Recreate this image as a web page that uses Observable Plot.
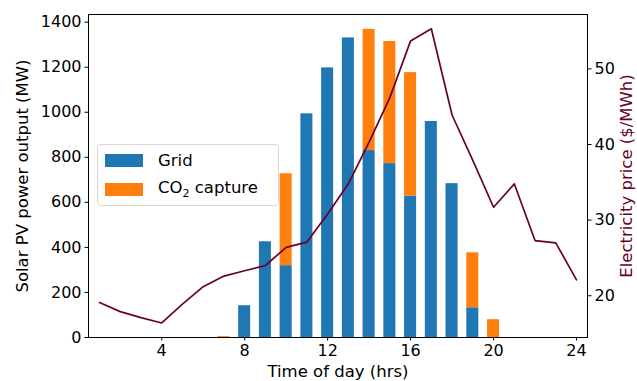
<!DOCTYPE html>
<html>
<head>
<meta charset="utf-8">
<script src="https://cdn.jsdelivr.net/npm/d3@7"></script>
<script src="https://cdn.jsdelivr.net/npm/@observablehq/plot@0.6"></script>
<style>
  html, body { margin: 0; padding: 0; background: #fff; }
  #chart { position: relative; width: 637px; height: 381px; font-family: "DejaVu Sans", sans-serif; }
  #chart > svg { position: absolute; left: 0; top: 0; }
  #legend {
    position: absolute; left: 97px; top: 144px; width: 180px; height: 60px;
    border: 1px solid #d6d6d6; border-radius: 4px; background: rgba(255,255,255,0.8);
    font-size: 16.5px; color: #000;
  }
  .item { position: absolute; left: 7px; display: flex; align-items: center; }
  .sw { width: 38px; height: 13px; margin-right: 15px; }
</style>
</head>
<body>
<div id="chart">
  <div id="legend">
    <div class="item" style="top:6px"><div class="sw" style="background:#1f77b4"></div><span>Grid</span></div>
    <div class="item" style="top:33px"><div class="sw" style="background:#ff7f0e"></div><span>CO<sub style="font-size:11px">2</sub> capture</span></div>
  </div>
</div>
<script>
// ---- data ----
const hours = [1,2,3,4,5,6,7,8,9,10,11,12,13,14,15,16,17,18,19,20,21,22,23,24];
const gridMW = [0,0,0,0,0,0,0,141,425,319,993,1197,1330,830,772,627,959,683,132,0,0,0,0,0];
const co2MW  = [0,0,0,0,0,0,4,0,0,408,0,0,0,538,542,549,0,0,244,79,0,0,0,0];
const price  = [19.1,17.9,17.1,16.4,18.9,21.2,22.6,23.3,24.0,26.4,27.1,30.8,34.8,40.3,46.2,53.7,55.3,43.9,37.9,31.7,34.8,27.3,27.0,22.1];
const seriesNames = ["Grid", "CO2 capture"];
const xTicks = [4,8,12,16,20,24];
const yTicksLeft = [0,200,400,600,800,1000,1200,1400];
const yTicksRight = [20,30,40,50];

const blue = "#1f77b4", orange = "#ff7f0e", maroon = "#6b0026";
const W = 637, H = 381, ML = 88, MR = 50, MT = 14, MB = 44;
const xDomain = [0.47, 24.53];

const barData = [];
hours.forEach((h, i) => {
  barData.push({hour: h, series: seriesNames[0], value: gridMW[i]});
  barData.push({hour: h, series: seriesNames[1], value: co2MW[i]});
});
const lineData = hours.map((h, i) => ({hour: h, price: price[i]}));

const {x: _ignore, ...stacked} = Plot.stackY({x: "hour", y: "value", fill: "series"});

const common = {
  width: W, height: H, marginLeft: ML, marginRight: MR, marginTop: MT, marginBottom: MB,
  style: {fontFamily: "DejaVu Sans", fontSize: "16px", color: "#000", background: "transparent", overflow: "visible"}
};

const plot1 = Plot.plot({
  ...common,
  x: {domain: xDomain},
  y: {domain: [0, 1434]},
  color: {domain: seriesNames, range: [blue, orange]},
  marks: [
    Plot.rect(barData, {...stacked, x1: d => d.hour - 0.29, x2: d => d.hour + 0.29}),
    Plot.axisX({ticks: xTicks, tickSize: 3.5, tickPadding: 4, fontSize: 16, label: null, tickFormat: d => String(d)}),
    Plot.axisY({ticks: yTicksLeft, tickSize: 3.5, tickPadding: 3.5, fontSize: 16, label: null, tickFormat: d => String(d)}),
    Plot.text(["Solar PV power output (MW)"], {frameAnchor: "left", dx: -66, rotate: -90, fontSize: 16.5, textAnchor: "middle", lineAnchor: "middle", fill: "#000"}),
    Plot.text(["Time of day (hrs)"], {frameAnchor: "bottom", dy: 34, fontSize: 16.5, textAnchor: "middle", lineAnchor: "middle", fill: "#000"})
  ]
});

const plot2 = Plot.plot({
  ...common,
  x: {domain: xDomain, axis: null},
  y: {domain: [14.48, 57.19], axis: null},
  marks: [
    Plot.line(lineData, {x: "hour", y: "price", stroke: maroon, strokeWidth: 1.7}),
    Plot.axisY({anchor: "right", ticks: yTicksRight, tickSize: 3.5, tickPadding: 3.5, fontSize: 16, label: null}),
    Plot.frame({stroke: "#000", strokeWidth: 1}),
    Plot.text(["Electricity price ($/MWh)"], {frameAnchor: "right", dx: 39, rotate: -90, fontSize: 16.5, textAnchor: "middle", lineAnchor: "middle", fill: maroon})
  ]
});

const chart = document.getElementById("chart");
chart.insertBefore(plot1, chart.firstChild);
chart.insertBefore(plot2, document.getElementById("legend"));
</script>
</body>
</html>
